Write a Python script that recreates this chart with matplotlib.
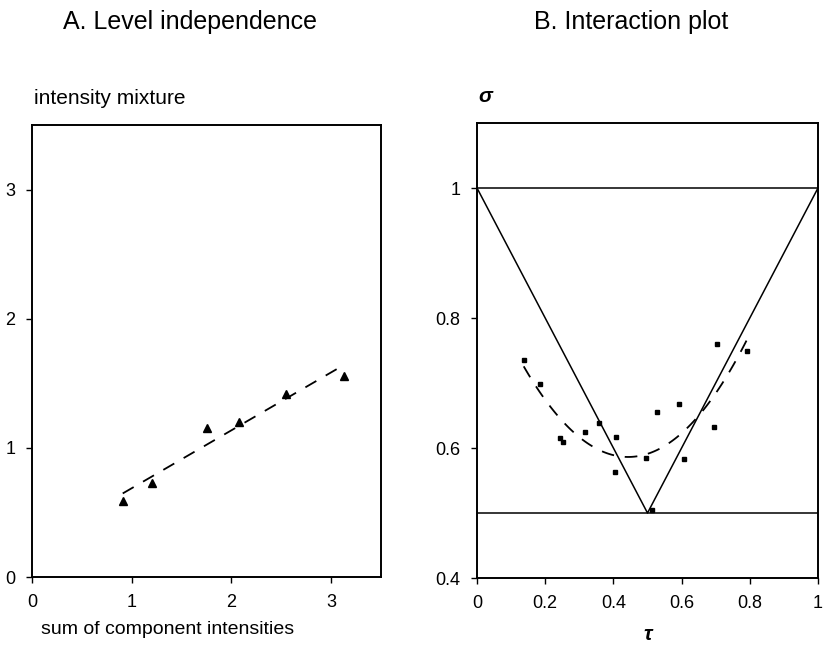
import numpy as np
import matplotlib
matplotlib.use("Agg")
import matplotlib.pyplot as plt

plt.rcParams['font.family'] = ['Liberation Sans', 'DejaVu Sans']

# panel A: mixture intensity vs. summed component intensities
sum_components = [0.91, 1.20, 1.76, 2.08, 2.55, 3.13]
mixture = [0.59, 0.73, 1.15, 1.20, 1.42, 1.56]
a_xticks = [0, 1, 2, 3]
a_yticks = [0, 1, 2, 3]

# panel B: interaction plot, sigma vs tau
tau = [0.137, 0.185, 0.243, 0.253, 0.317, 0.359, 0.407, 0.404,
       0.496, 0.514, 0.529, 0.591, 0.606, 0.694, 0.705, 0.791]
sigma = [0.736, 0.698, 0.616, 0.609, 0.625, 0.639, 0.617, 0.563,
         0.584, 0.504, 0.655, 0.667, 0.583, 0.633, 0.760, 0.750]
bound_tau = [0, 0.5, 1]
bound_sigma = [1, 0.5, 1]
b_xticks = [0, 0.2, 0.4, 0.6, 0.8, 1]
b_xlabels = ['0', '0.2', '0.4', '0.6', '0.8', '1']
b_yticks = [0.4, 0.6, 0.8, 1]
b_ylabels = ['0.4', '0.6', '0.8', '1']

W, H = 825, 647
fig = plt.figure(figsize=(W / 100, H / 100), dpi=100)


def style(ax):
    for s in ax.spines.values():
        s.set_linewidth(1.4)
    ax.tick_params(direction='out', length=4, width=1, labelsize=13, pad=8)


# ---- A ----
axA = fig.add_axes([32 / W, 1 - 577 / H, 349 / W, 452 / H])
axA.plot(sum_components, mixture, '^', color='black', markersize=5.5)
k, b = np.polyfit(sum_components, mixture, 1)
xs = np.array([min(sum_components), max(sum_components)])
axA.plot(xs, k * xs + b, color='black', lw=1.3, dashes=(7, 6))
axA.set_xlim(0, 3.5)
axA.set_ylim(0, 3.5)
axA.set_xticks(a_xticks)
axA.set_yticks(a_yticks)
style(axA)

# ---- B ----
axB = fig.add_axes([477 / W, 1 - 578 / H, 341 / W, 455 / H])
axB.plot(tau, sigma, 's', color='black', markersize=3.5)
c = np.polyfit(tau, sigma, 2)
xs = np.linspace(min(tau), max(tau), 100)
axB.plot(xs, np.polyval(c, xs), color='black', lw=1.3, dashes=(7, 6))
axB.plot(bound_tau, bound_sigma, color='black', lw=1.1)
axB.axhline(1.0, color='black', lw=1.1)
axB.axhline(0.5, color='black', lw=1.1)
axB.set_xlim(0, 1)
axB.set_ylim(0.4, 1.1)
axB.set_xticks(b_xticks, b_xlabels)
axB.set_yticks(b_yticks, b_ylabels)
style(axB)

# titles and axis labels
fig.text(190 / W, 1 - 22 / H, 'A. Level independence', ha='center', va='center', fontsize=18)
fig.text(631 / W, 1 - 22 / H, 'B. Interaction plot', ha='center', va='center', fontsize=18)
fig.text(34 / W, 1 - 98 / H, 'intensity mixture', ha='left', va='center', fontsize=15)
fig.text(168 / W, 1 - 630 / H, 'sum of component intensities', ha='center', va='center', fontsize=14)
fig.text(478 / W, 1 - 96 / H, 'σ', ha='left', va='center', fontsize=15,
         fontweight='bold', fontstyle='italic')
fig.text(648 / W, 1 - 634 / H, 'τ', ha='center', va='center', fontsize=15,
         fontweight='bold', fontstyle='italic')

fig.savefig('out.png', dpi=100)
